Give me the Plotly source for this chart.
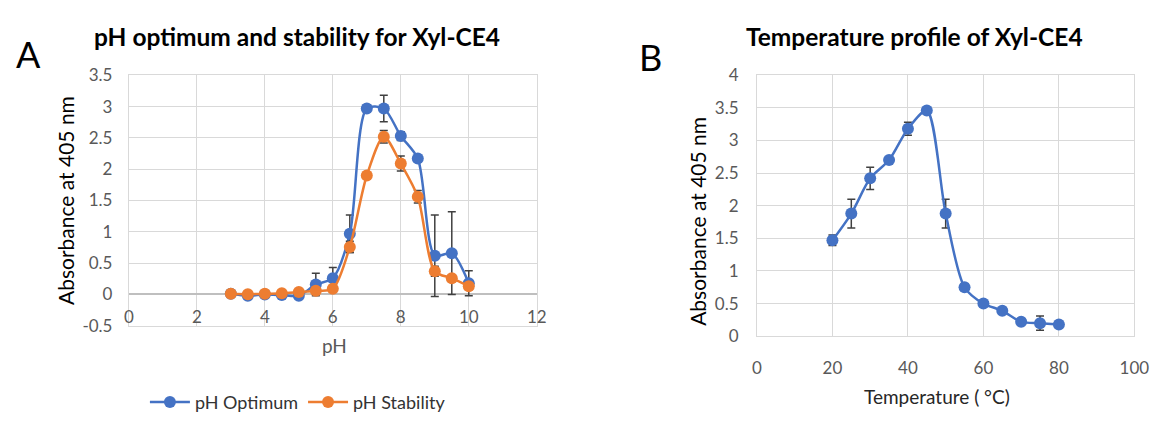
import plotly.graph_objects as go

# ---- Data: pH profile ----
ph = [3, 3.5, 4, 4.5, 5, 5.5, 6, 6.5, 7, 7.5, 8, 8.5, 9, 9.5, 10]
ph_optimum = [0.01, -0.02, 0.0, -0.01, -0.02, 0.16, 0.26, 0.97, 2.97, 2.97, 2.53, 2.17, 0.62, 0.66, 0.18]
ph_optimum_err = [0.01, 0.01, 0.01, 0.01, 0.01, 0.18, 0.17, 0.30, 0.06, 0.21, 0.07, 0.03, 0.65, 0.66, 0.20]
ph_stability = [0.01, 0.005, 0.01, 0.02, 0.04, 0.06, 0.09, 0.76, 1.90, 2.52, 2.09, 1.56, 0.37, 0.26, 0.13]
ph_stability_err = [0.01, 0.01, 0.01, 0.01, 0.01, 0.02, 0.02, 0.09, 0.03, 0.10, 0.12, 0.10, 0.08, 0.03, 0.03]

# ---- Data: temperature profile ----
temp = [20, 25, 30, 35, 40, 45, 50, 55, 60, 65, 70, 75, 80]
temp_abs = [1.47, 1.88, 2.42, 2.70, 3.18, 3.46, 1.88, 0.75, 0.50, 0.39, 0.22, 0.20, 0.18]
temp_err = [0.08, 0.22, 0.17, 0.03, 0.10, 0.04, 0.22, 0.05, 0.03, 0.03, 0.03, 0.11, 0.02]

ph_ticks = [0, 2, 4, 6, 8, 10, 12]
abs_ticks_a = [-0.5, 0, 0.5, 1, 1.5, 2, 2.5, 3, 3.5]
temp_ticks = [0, 20, 40, 60, 80, 100]
abs_ticks_b = [0, 0.5, 1, 1.5, 2, 2.5, 3, 3.5, 4]

BLUE = "#4472C4"
ORANGE = "#ED7D31"
ERR = "#404040"
GRID = "#d9d9d9"
TICK = "#595959"
FONT = "Lato"

fig = go.Figure()

def err(vals):
    return dict(type="data", array=vals, visible=True, color=ERR, thickness=1.5, width=4)

fig.add_trace(go.Scatter(
    x=ph, y=ph_optimum, mode="lines+markers", name="pH Optimum",
    line=dict(color=BLUE, width=2.5, shape="spline", smoothing=0.8),
    marker=dict(color=BLUE, size=12), error_y=err(ph_optimum_err),
    xaxis="x", yaxis="y"))
fig.add_trace(go.Scatter(
    x=ph, y=ph_stability, mode="lines+markers", name="pH Stability",
    line=dict(color=ORANGE, width=2.5, shape="spline", smoothing=0.8),
    marker=dict(color=ORANGE, size=12), error_y=err(ph_stability_err),
    xaxis="x", yaxis="y"))
fig.add_trace(go.Scatter(
    x=temp, y=temp_abs, mode="lines+markers", name="Temperature",
    line=dict(color=BLUE, width=2.5, shape="spline", smoothing=0.8),
    marker=dict(color=BLUE, size=12), error_y=err(temp_err),
    xaxis="x2", yaxis="y2", showlegend=False))

axis_common = dict(showgrid=True, gridcolor=GRID, gridwidth=1, zeroline=False,
                   showline=True, mirror=True, linecolor=GRID, linewidth=1, ticks="",
                   tickfont=dict(family=FONT, size=17, color=TICK))

fig.update_layout(
    width=1172, height=421,
    margin=dict(l=0, r=0, t=0, b=0),
    paper_bgcolor="white", plot_bgcolor="white",
    font=dict(family=FONT),
    xaxis=dict(domain=[126/1172, 541/1172], range=[0, 12], tickvals=ph_ticks,
               ticklabelposition="inside", ticklabeloverflow="allow", anchor="y",
               **axis_common),
    yaxis=dict(domain=[1-333/421, 1-68/421], range=[-0.5, 3.5], tickvals=abs_ticks_a,
               ticktext=[f"{v:g}" for v in abs_ticks_a], anchor="x",
               ticklabelstandoff=12, **{**axis_common, "zeroline": True},
               zerolinecolor="#bfbfbf", zerolinewidth=1.5),
    xaxis2=dict(domain=[765/1172, 1149/1172], range=[0, 100], tickvals=temp_ticks,
                anchor="y2", ticklabelstandoff=16, **axis_common),
    yaxis2=dict(domain=[1-344/421, 1-68/421], range=[0, 4], tickvals=abs_ticks_b,
                ticktext=[f"{v:g}" for v in abs_ticks_b], anchor="x2",
                ticklabelstandoff=14, **axis_common),
    legend=dict(orientation="h", x=298/1172, y=1-414/421, xanchor="center", yanchor="middle",
                font=dict(family=FONT, size=18, color="#333333"), itemwidth=40,
                bgcolor="rgba(0,0,0,0)"),
)

ann = [
    dict(text="<b>pH optimum and stability for Xyl-CE4</b>", x=297/1172, y=1-27/421,
         font=dict(size=24.5, color="#000000")),
    dict(text="<b>Temperature profile of Xyl-CE4</b>", x=925/1172, y=1-27/421,
         font=dict(size=24.5, color="#000000")),
    dict(text="A", x=24/1172, y=1-46/421, font=dict(size=36, color="#000000")),
    dict(text="B", x=657/1172, y=1-49/421, font=dict(size=36, color="#000000")),
    dict(text="Absorbance at 405 nm", x=61/1172, y=1-200/421, textangle=-90,
         font=dict(size=21, color="#000000")),
    dict(text="Absorbance at 405 nm", x=705/1172, y=1-222/421, textangle=-90,
         font=dict(size=21, color="#000000")),
    dict(text="pH", x=335/1172, y=1-354/421, font=dict(size=19, color=TICK)),
    dict(text="Temperature ( °C)", x=948/1172, y=1-408/421, font=dict(size=19, color="#262626")),
]
for a in ann:
    fig.add_annotation(xref="paper", yref="paper", showarrow=False,
                       xanchor="center", yanchor="middle", **{**a, "font": {**a["font"], "family": FONT}})

fig.write_html("out.html")
